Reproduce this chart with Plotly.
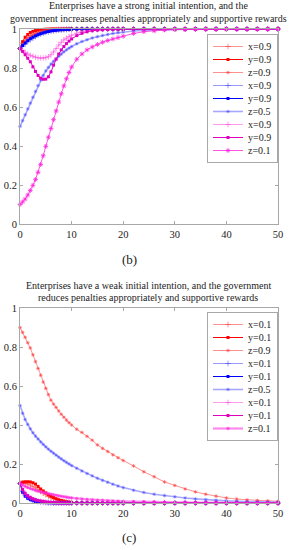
import plotly.graph_objects as go

# shared time grid
T = [0, 0.5, 1, 1.5, 2, 2.5, 3, 3.5, 4, 4.5, 5, 5.5, 6, 6.5, 7, 7.5, 8, 8.5, 9, 9.5, 10,
     11, 12, 13, 14, 15, 16, 17, 18, 19, 20,
     22, 24, 26, 28, 30, 32, 34, 36, 38, 40, 42, 44, 46, 48, 50]

# ---- chart (b): strong initial intention ----
b_red_x = [0.9, 0.925, 0.942, 0.955, 0.965, 0.972, 0.978, 0.983, 0.987, 0.99, 0.992, 0.994, 0.995, 0.996, 0.997, 0.998, 0.998, 0.999, 0.999, 0.999, 1.0,
           1.0, 1.0, 1.0, 1.0, 1.0, 1.0, 1.0, 1.0, 1.0, 1.0,
           1.0, 1.0, 1.0, 1.0, 1.0, 1.0, 1.0, 1.0, 1.0, 1.0, 1.0, 1.0, 1.0, 1.0, 1.0]
b_red_y = [0.9, 0.935, 0.958, 0.972, 0.982, 0.988, 0.992, 0.995, 0.997, 0.998, 0.999, 0.999, 1.0, 1.0, 1.0, 1.0, 1.0, 1.0, 1.0, 1.0, 1.0,
           1.0, 1.0, 1.0, 1.0, 1.0, 1.0, 1.0, 1.0, 1.0, 1.0,
           1.0, 1.0, 1.0, 1.0, 1.0, 1.0, 1.0, 1.0, 1.0, 1.0, 1.0, 1.0, 1.0, 1.0, 1.0]
b_red_z = [0.9, 0.92, 0.938, 0.952, 0.962, 0.97, 0.976, 0.981, 0.985, 0.988, 0.991, 0.993, 0.995, 0.996, 0.997, 0.998, 0.998, 0.999, 0.999, 0.999, 1.0,
           1.0, 1.0, 1.0, 1.0, 1.0, 1.0, 1.0, 1.0, 1.0, 1.0,
           1.0, 1.0, 1.0, 1.0, 1.0, 1.0, 1.0, 1.0, 1.0, 1.0, 1.0, 1.0, 1.0, 1.0, 1.0]
b_blue_x = [0.9, 0.912, 0.924, 0.935, 0.945, 0.953, 0.961, 0.968, 0.973, 0.978, 0.982, 0.985, 0.988, 0.99, 0.992, 0.994, 0.995, 0.996, 0.997, 0.998, 0.998,
            0.999, 0.999, 1.0, 1.0, 1.0, 1.0, 1.0, 1.0, 1.0, 1.0,
            1.0, 1.0, 1.0, 1.0, 1.0, 1.0, 1.0, 1.0, 1.0, 1.0, 1.0, 1.0, 1.0, 1.0, 1.0]
b_blue_y = [0.9, 0.915, 0.928, 0.94, 0.95, 0.958, 0.965, 0.971, 0.976, 0.98, 0.984, 0.987, 0.99, 0.992, 0.993, 0.995, 0.996, 0.997, 0.998, 0.998, 0.999,
            0.999, 1.0, 1.0, 1.0, 1.0, 1.0, 1.0, 1.0, 1.0, 1.0,
            1.0, 1.0, 1.0, 1.0, 1.0, 1.0, 1.0, 1.0, 1.0, 1.0, 1.0, 1.0, 1.0, 1.0, 1.0]
b_blue_z = [0.5, 0.53, 0.56, 0.59, 0.62, 0.65, 0.68, 0.71, 0.738, 0.762, 0.785, 0.803, 0.82, 0.834, 0.847, 0.86, 0.872, 0.883, 0.893, 0.902, 0.91,
            0.924, 0.936, 0.945, 0.954, 0.961, 0.967, 0.972, 0.977, 0.981, 0.985,
            0.99, 0.993, 0.995, 0.997, 0.998, 0.999, 0.999, 1.0, 1.0, 1.0, 1.0, 1.0, 1.0, 1.0, 1.0]
b_mag_x = [0.9, 0.89, 0.88, 0.872, 0.865, 0.86, 0.855, 0.852, 0.851, 0.851, 0.853, 0.858, 0.868, 0.882, 0.9, 0.918, 0.932, 0.944, 0.953, 0.961, 0.968,
           0.979, 0.986, 0.991, 0.994, 0.996, 0.998, 0.999, 0.999, 1.0, 1.0,
           1.0, 1.0, 1.0, 1.0, 1.0, 1.0, 1.0, 1.0, 1.0, 1.0, 1.0, 1.0, 1.0, 1.0, 1.0]
b_mag_y = [0.9, 0.885, 0.868, 0.85, 0.832, 0.806, 0.782, 0.762, 0.748, 0.742, 0.743, 0.755, 0.78, 0.815, 0.845, 0.872, 0.893, 0.91, 0.925, 0.938, 0.949,
           0.966, 0.978, 0.986, 0.991, 0.994, 0.996, 0.998, 0.999, 0.999, 1.0,
           1.0, 1.0, 1.0, 1.0, 1.0, 1.0, 1.0, 1.0, 1.0, 1.0, 1.0, 1.0, 1.0, 1.0, 1.0]
b_mag_z = [0.1, 0.113, 0.128, 0.148, 0.172, 0.198, 0.228, 0.265, 0.305, 0.35, 0.398, 0.445, 0.49, 0.535, 0.58, 0.625, 0.668, 0.708, 0.745, 0.777, 0.805,
           0.845, 0.872, 0.893, 0.908, 0.921, 0.932, 0.941, 0.949, 0.956, 0.963,
           0.977, 0.986, 0.991, 0.995, 0.997, 0.998, 0.999, 1.0, 1.0, 1.0, 1.0, 1.0, 1.0, 1.0, 1.0]

# ---- chart (c): weak initial intention ----
c_red_x = [0.1, 0.101, 0.1, 0.097, 0.092, 0.085, 0.077, 0.068, 0.059, 0.05, 0.042, 0.034, 0.027, 0.021, 0.016, 0.012, 0.009, 0.007, 0.005, 0.003, 0.002,
           0.001, 0.0, 0.0, 0.0, 0.0, 0.0, 0.0, 0.0, 0.0, 0.0,
           0.0, 0.0, 0.0, 0.0, 0.0, 0.0, 0.0, 0.0, 0.0, 0.0, 0.0, 0.0, 0.0, 0.0, 0.0]
c_red_y = [0.1, 0.107, 0.109, 0.109, 0.108, 0.104, 0.097, 0.085, 0.072, 0.062, 0.052, 0.042, 0.034, 0.028, 0.022, 0.017, 0.013, 0.01, 0.007, 0.005, 0.003,
           0.001, 0.0, 0.0, 0.0, 0.0, 0.0, 0.0, 0.0, 0.0, 0.0,
           0.0, 0.0, 0.0, 0.0, 0.0, 0.0, 0.0, 0.0, 0.0, 0.0, 0.0, 0.0, 0.0, 0.0, 0.0]
c_red_z = [0.9, 0.875, 0.85, 0.822, 0.795, 0.76, 0.725, 0.69, 0.655, 0.62, 0.588, 0.556, 0.527, 0.507, 0.49, 0.472, 0.455, 0.44, 0.425, 0.412, 0.4,
           0.378, 0.362, 0.342, 0.322, 0.298, 0.28, 0.264, 0.247, 0.232, 0.218,
           0.19, 0.16, 0.135, 0.108, 0.09, 0.072, 0.057, 0.045, 0.035, 0.026, 0.02, 0.016, 0.013, 0.011, 0.009]
c_blue_x = [0.1, 0.06, 0.04, 0.028, 0.02, 0.014, 0.01, 0.007, 0.005, 0.003, 0.002, 0.001, 0.0, 0.0, 0.0, 0.0, 0.0, 0.0, 0.0, 0.0, 0.0,
            0.0, 0.0, 0.0, 0.0, 0.0, 0.0, 0.0, 0.0, 0.0, 0.0,
            0.0, 0.0, 0.0, 0.0, 0.0, 0.0, 0.0, 0.0, 0.0, 0.0, 0.0, 0.0, 0.0, 0.0, 0.0]
c_blue_y = [0.1, 0.055, 0.035, 0.024, 0.017, 0.012, 0.008, 0.006, 0.004, 0.003, 0.002, 0.001, 0.001, 0.0, 0.0, 0.0, 0.0, 0.0, 0.0, 0.0, 0.0,
            0.0, 0.0, 0.0, 0.0, 0.0, 0.0, 0.0, 0.0, 0.0, 0.0,
            0.0, 0.0, 0.0, 0.0, 0.0, 0.0, 0.0, 0.0, 0.0, 0.0, 0.0, 0.0, 0.0, 0.0, 0.0]
c_blue_z = [0.5, 0.46, 0.428, 0.403, 0.38, 0.36, 0.343, 0.328, 0.313, 0.3, 0.288, 0.276, 0.265, 0.255, 0.245, 0.235, 0.226, 0.217, 0.208, 0.2, 0.192,
            0.178, 0.164, 0.151, 0.139, 0.127, 0.116, 0.106, 0.096, 0.087, 0.079,
            0.065, 0.054, 0.045, 0.038, 0.032, 0.026, 0.021, 0.017, 0.014, 0.011, 0.009, 0.007, 0.006, 0.005, 0.004]
c_mag_x = [0.1, 0.065, 0.045, 0.033, 0.025, 0.019, 0.014, 0.011, 0.008, 0.006, 0.004, 0.003, 0.002, 0.001, 0.001, 0.0, 0.0, 0.0, 0.0, 0.0, 0.0,
           0.0, 0.0, 0.0, 0.0, 0.0, 0.0, 0.0, 0.0, 0.0, 0.0,
           0.0, 0.0, 0.0, 0.0, 0.0, 0.0, 0.0, 0.0, 0.0, 0.0, 0.0, 0.0, 0.0, 0.0, 0.0]
c_mag_y = [0.1, 0.07, 0.05, 0.038, 0.029, 0.022, 0.017, 0.013, 0.01, 0.008, 0.006, 0.004, 0.003, 0.002, 0.001, 0.0, 0.0, 0.0, 0.0, 0.0, 0.0,
           0.0, 0.0, 0.0, 0.0, 0.0, 0.0, 0.0, 0.0, 0.0, 0.0,
           0.0, 0.0, 0.0, 0.0, 0.0, 0.0, 0.0, 0.0, 0.0, 0.0, 0.0, 0.0, 0.0, 0.0, 0.0]
c_mag_z = [0.1, 0.092, 0.085, 0.079, 0.074, 0.069, 0.064, 0.06, 0.057, 0.054, 0.051, 0.048, 0.045, 0.042, 0.039, 0.036, 0.034, 0.032, 0.03, 0.028, 0.026,
           0.023, 0.021, 0.019, 0.017, 0.015, 0.014, 0.012, 0.011, 0.01, 0.009,
           0.007, 0.006, 0.005, 0.004, 0.003, 0.002, 0.002, 0.001, 0.001, 0.001, 0.0, 0.0, 0.0, 0.0, 0.0]

labels_b = ["x=0.9", "y=0.9", "z=0.9", "x=0.9", "y=0.9", "z=0.5", "x=0.9", "y=0.9", "z=0.1"]
labels_c = ["x=0.1", "y=0.1", "z=0.9", "x=0.1", "y=0.1", "z=0.5", "x=0.1", "y=0.1", "z=0.1"]

title_b = ["Enterprises have a strong initial intention, and the",
           "government increases penalties appropriately and supportive rewards"]
title_c = ["Enterprises have a weak initial intention, and the government",
           "reduces penalties appropriately and supportive rewards"]
panel_labels = ["(b)", "(c)"]

x_ticks = [0, 10, 20, 30, 40, 50]
y_ticks = [0, 0.2, 0.4, 0.6, 0.8, 1]

FONT = "Liberation Serif"
TXT = "#222222"
AX = "#a8a8a8"

# styles: (color, line width, marker symbol, marker size, marker outline)
styles_b = [
    ("rgba(255,60,60,0.55)", 1, "cross-thin-open", 4, 1),
    ("#ff0000", 1, "square", 3, 0),
    ("rgba(255,70,70,0.6)", 1, "asterisk-open", 3, 1),
    ("rgba(70,70,255,0.55)", 1, "cross-thin-open", 4, 1),
    ("#0000ff", 1, "square", 3, 0),
    ("rgba(80,80,255,0.5)", 1.6, "asterisk-open", 3, 1),
    ("rgba(255,60,220,0.5)", 1, "cross-thin-open", 4, 1),
    ("#e000c0", 1, "square", 3, 0),
    ("rgba(255,40,220,0.8)", 1, "asterisk-open", 4, 1),
]
styles_c = list(styles_b)
styles_c[8] = ("rgba(255,40,220,0.55)", 2.2, "asterisk-open", 3, 1)

series_b = [b_red_x, b_red_y, b_red_z, b_blue_x, b_blue_y, b_blue_z, b_mag_x, b_mag_y, b_mag_z]
series_c = [c_red_x, c_red_y, c_red_z, c_blue_x, c_blue_y, c_blue_z, c_mag_x, c_mag_y, c_mag_z]

fig = go.Figure()


def add_series(series, labels, styles, xa, ya, lg):
    for vals, lab, st in zip(series, labels, styles):
        col, lw, sym, ms, mlw = st
        fig.add_trace(go.Scatter(
            x=T, y=vals, name=lab, mode="lines+markers",
            line=dict(color=col, width=lw),
            marker=dict(symbol=sym, size=ms, color=col, line=dict(color=col, width=mlw)),
            cliponaxis=False, xaxis=xa, yaxis=ya, legend=lg))


add_series(series_b, labels_b, styles_b, "x", "y", "legend")
add_series(series_c, labels_c, styles_c, "x2", "y2", "legend2")

W, H = 291, 550
xl, xr = 20 / W, 278 / W
top_dom = [(H - 224) / H, (H - 29) / H]
bot_dom = [(H - 503) / H, (H - 308) / H]

axis_common = dict(showgrid=False, zeroline=False, showline=True, linecolor=AX,
                   linewidth=1, mirror="ticks", ticks="inside", ticklen=3, tickcolor=AX,
                   automargin=False, tickfont=dict(family=FONT, size=10.5, color=TXT))

legend_common = dict(font=dict(family=FONT, size=10, color=TXT), bordercolor=AX, borderwidth=1,
                     bgcolor="white", xanchor="right", yanchor="top", itemwidth=30, tracegroupgap=0)

fig.update_layout(
    template="none",
    width=W, height=H, autosize=False,
    margin=dict(l=0, r=0, t=0, b=0, pad=0),
    font=dict(family=FONT, color=TXT),
    paper_bgcolor="white", plot_bgcolor="white",
    xaxis=dict(domain=[xl, xr], anchor="y", range=[0, 50], tickvals=x_ticks, **axis_common),
    yaxis=dict(domain=top_dom, anchor="x", range=[0, 1], tickvals=y_ticks, **axis_common),
    xaxis2=dict(domain=[xl, xr], anchor="y2", range=[0, 50], tickvals=x_ticks, **axis_common),
    yaxis2=dict(domain=bot_dom, anchor="x2", range=[0, 1], tickvals=y_ticks, **axis_common),
    legend=dict(x=xr, y=(H - 34) / H, **legend_common),
    legend2=dict(x=xr, y=(H - 312) / H, **legend_common),
    showlegend=True,
)

ann = []
cx = 148 / W
for txt, py in zip(title_b, [6, 18.5]):
    ann.append(dict(text=txt, x=cx, y=(H - py) / H, xref="paper", yref="paper", showarrow=False,
                    xanchor="center", yanchor="middle", font=dict(family=FONT, size=10, color=TXT)))
for txt, py in zip(title_c, [285, 297]):
    ann.append(dict(text=txt, x=cx, y=(H - py) / H, xref="paper", yref="paper", showarrow=False,
                    xanchor="center", yanchor="middle", font=dict(family=FONT, size=10, color=TXT)))
for txt, py in zip(panel_labels, [259, 537]):
    ann.append(dict(text=txt, x=129 / W, y=(H - py) / H, xref="paper", yref="paper", showarrow=False,
                    xanchor="center", yanchor="middle", font=dict(family=FONT, size=13, color=TXT)))
fig.update_layout(annotations=ann)

# page without the default body margin, and compact legend rows (~13 px per entry)
post = """
(function(){
  document.documentElement.style.margin = '0';
  document.documentElement.style.padding = '0';
  document.body.style.margin = '0';
  document.body.style.padding = '0';
  var gd = document.getElementById('{plot_id}');
  var STEP = 13;
  function parse(el){
    var m = /translate\\(\\s*([-\\d.]+)[\\s,]+([-\\d.]+)\\s*\\)/.exec(el.getAttribute('transform') || '');
    return m ? [parseFloat(m[1]), parseFloat(m[2])] : [0, 0];
  }
  function squeeze(){
    ['legend', 'legend2'].forEach(function(cls){
      var lg = gd.querySelector('g.infolayer > g.' + cls);
      if(!lg) return;
      var items = lg.querySelectorAll('g.traces');
      if(items.length < 2) return;
      var p0 = parse(items[0]), p1 = parse(items[1]);
      var old = p1[1] - p0[1];
      if(old <= STEP + 0.5) return;
      var base = p0[1] - (old - STEP) / 2;
      for(var i = 0; i < items.length; i++){
        var p = parse(items[i]);
        items[i].setAttribute('transform', 'translate(' + p[0] + ',' + (base + i * STEP) + ')');
      }
      var shrink = items.length * (old - STEP);
      var bg = lg.querySelector('rect.bg');
      if(bg){ bg.setAttribute('height', parseFloat(bg.getAttribute('height')) - shrink); }
    });
  }
  squeeze();
  if(gd.on){ gd.on('plotly_afterplot', squeeze); }
  setTimeout(squeeze, 30);
})();
"""

fig.write_html("out.html", post_script=post, config={"displayModeBar": False})
